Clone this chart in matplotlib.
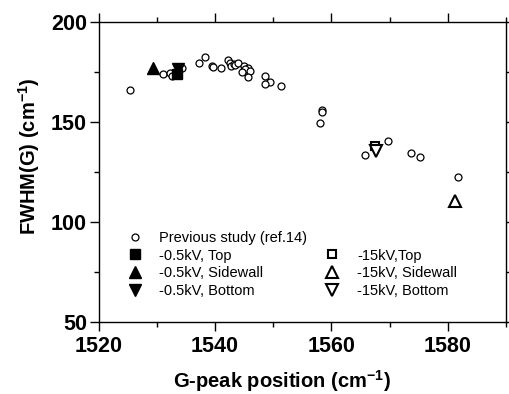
import matplotlib
matplotlib.use('Agg')
import matplotlib.pyplot as plt
from matplotlib.lines import Line2D
from matplotlib.ticker import MultipleLocator

plt.rcParams['font.family'] = ['Liberation Sans', 'DejaVu Sans']
plt.rcParams['mathtext.fontset'] = 'custom'
plt.rcParams['mathtext.rm'] = 'Liberation Sans'
plt.rcParams['mathtext.bf'] = 'Liberation Sans:bold'

# previous study (ref.14)
prev_x = [1525.3, 1531.1, 1532.3, 1532.6, 1534.3, 1537.3, 1538.3, 1539.4, 1539.6,
          1541.0, 1542.2, 1542.5, 1542.8, 1543.2, 1543.5, 1544.0, 1544.9, 1545.7,
          1545.1, 1544.6, 1546.0, 1545.6, 1548.5, 1549.5, 1548.5, 1551.4, 1558.3,
          1558.4, 1558.1, 1565.7, 1569.8, 1573.6, 1575.2, 1581.8]
prev_y = [165.8, 173.7, 174.2, 173.0, 177.0, 179.2, 182.2, 178.0, 177.5,
          177.0, 180.9, 179.2, 178.0, 178.7, 178.2, 179.2, 178.0, 176.7,
          176.2, 174.7, 175.5, 172.5, 172.9, 170.0, 168.7, 168.0, 155.9,
          155.0, 149.2, 133.3, 140.3, 134.2, 132.2, 122.5]

# -0.5kV samples
low_top = (1533.4, 173.7)
low_side = (1529.3, 177.0)
low_bottom = (1533.6, 176.2)

# -15kV samples
high_top = (1567.5, 138.0)
high_side = (1581.3, 110.4)
high_bottom = (1567.7, 135.5)

fig = plt.figure(figsize=(5.09, 3.94), dpi=100)
ax = fig.add_axes([0.194, 0.1835, 0.8, 0.7615])

ax.plot(prev_x, prev_y, 'o', ms=5, mfc='white', mec='black', mew=0.9,
        label='Previous study (ref.14)')
ax.plot(*low_top, 's', ms=6.5, mfc='black', mec='black', label='-0.5kV, Top')
ax.plot(*low_side, '^', ms=8.5, mfc='black', mec='black', label='-0.5kV, Sidewall')
ax.plot(*low_bottom, 'v', ms=8.5, mfc='black', mec='black', label='-0.5kV, Bottom')
ax.plot(*high_top, 's', ms=6, mfc='white', mec='black', mew=1.5, label='-15kV,Top')
ax.plot(*high_side, '^', ms=8, mfc='white', mec='black', mew=1.5, label='-15kV, Sidewall')
ax.plot(*high_bottom, 'v', ms=8, mfc='white', mec='black', mew=1.5, label='-15kV, Bottom')

ax.set_xlim(1520, 1590)
ax.set_ylim(50, 200)
ax.xaxis.set_major_locator(MultipleLocator(20))
ax.xaxis.set_minor_locator(MultipleLocator(10))
ax.yaxis.set_major_locator(MultipleLocator(50))
ax.yaxis.set_minor_locator(MultipleLocator(25))
ax.tick_params(which='both', direction='out', top=True, right=True, width=1.0)
ax.tick_params(which='major', length=6.5, labelsize=15.5)
ax.tick_params(axis='x', which='major', pad=4)
ax.tick_params(axis='y', which='major', pad=2)
ax.tick_params(which='minor', length=3.5)
for lab in ax.get_xticklabels() + ax.get_yticklabels():
    lab.set_fontweight('bold')
for sp in ax.spines.values():
    sp.set_linewidth(1.0)

ax.set_xlabel('G-peak position (cm$^{\\mathregular{-1}}$)', fontsize=14.5, fontweight='bold')
ax.set_ylabel('FWHM(G) (cm$^{\\mathregular{-1}}$)', fontsize=14.5, fontweight='bold')
ax.xaxis.set_label_coords(0.45, -0.155)
ax.yaxis.set_label_coords(-0.14, 0.55)

h, l = ax.get_legend_handles_labels()
blank = Line2D([], [], linestyle='none', marker=None)
handles = [h[0], h[1], h[2], h[3], blank, h[4], h[5], h[6]]
labels = [l[0], l[1], l[2], l[3], '', l[4], l[5], l[6]]
ax.legend(handles, labels, ncol=2, loc='upper left', bbox_to_anchor=(0.052, 0.322),
          frameon=False, fontsize=10.5, handlelength=1.2, handletextpad=1.1,
          labelspacing=0.25, columnspacing=1.1, borderaxespad=0)

fig.savefig('out.png', dpi=100)
